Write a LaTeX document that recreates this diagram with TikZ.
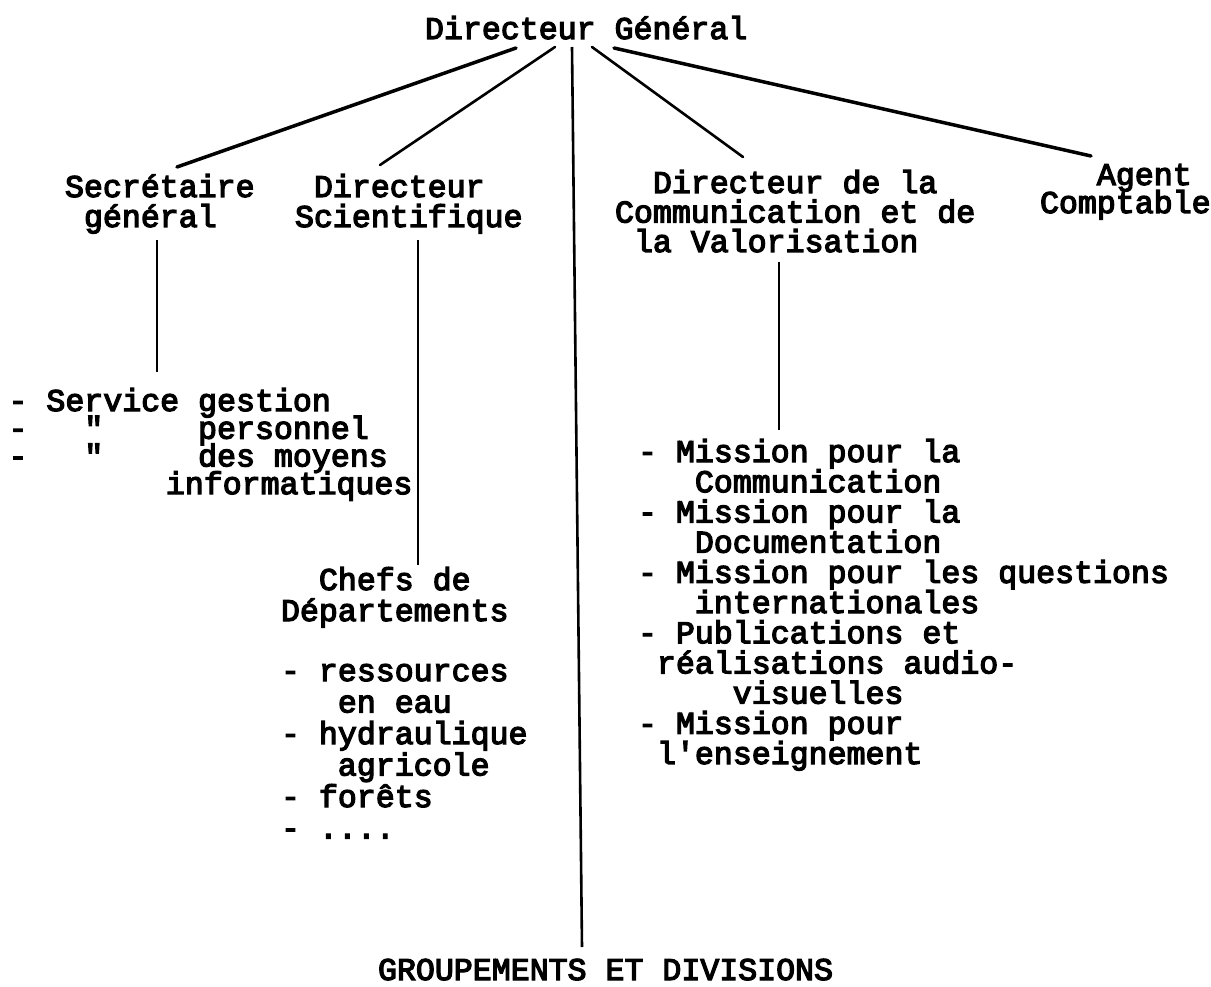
\documentclass[tikz,border=0pt]{standalone}
\usepackage{fontspec}
\newfontfamily\tw{Liberation Mono}[FakeBold=4]
\newlength\cw
\setlength\cw{18.96pt}
\newcommand\cols[1]{\hspace*{#1\cw}}
\newcommand\fl{\rule{0pt}{28pt}}
\tikzset{
  txt/.style={inner sep=0pt, outer sep=0pt, anchor=north west, align=left,
    font={\tw\fontsize{31.6}{#1}\selectfont\lineskiplimit=-100pt}},
  txt/.default=30,
  heavy/.style={line width=3.5pt, line cap=round},
  light/.style={line width=2.6pt, line cap=round},
  stem/.style={line width=2.6pt}
}
\begin{document}
\begin{tikzpicture}[x=1pt,y=-1pt]
\useasboundingbox (0,0) rectangle (1211,987);
\fill[white] (0,0) rectangle (1211,987);

% nodes
\node[txt] (dg) at (425,11) {\fl Directeur Général};
\node[txt=30] (sg) at (65,169) {\fl Secrétaire\\\cols{1}général};
\node[txt=30] (ds) at (295,169) {\fl\cols{1}Directeur\\Scientifique};
\node[txt=29.5] (dc) at (615,165) {\fl\cols{2}Directeur de la\\Communication et de\\\cols{1}la Valorisation};
\node[txt=28] (ac) at (1040,157) {\fl\cols{3}Agent\\Comptable};

\node[txt=27.7] (sv) at (8.5,383) {\fl-\cols{1}Service gestion\\-\cols{3}"\cols{5}personnel\\-\cols{3}"\cols{5}des moyens\\\cols{8.3}informatiques};

\node[txt=31] (ch) at (281,562) {\fl\cols{2}Chefs de\\Départements};
\node[txt=31.5] (dp) at (281,653) {\fl-\cols{1}ressources\\\cols{3}en eau\\-\cols{1}hydraulique\\\cols{3}agricole\\-\cols{1}forêts\\-\cols{1}....};

\node[txt=30.2] (ms) at (638,434) {\fl-\cols{1}Mission pour la\\\cols{3}Communication\\-\cols{1}Mission pour la\\\cols{3}Documentation\\-\cols{1}Mission pour les questions\\\cols{3}internationales\\-\cols{1}Publications et\\\cols{1}réalisations audio-\\\cols{5}visuelles\\-\cols{1}Mission pour\\\cols{1}l'enseignement};

\node[txt] (gd) at (378,952) {\fl GROUPEMENTS ET DIVISIONS};

% connector ends
\coordinate (t1) at (516,48);
\coordinate (t2) at (555,47);
\coordinate (t3) at (572,47);
\coordinate (t4) at (592,47);
\coordinate (t5) at (614,48);
\coordinate (e1) at (177,167);
\coordinate (e2) at (380,165);
\coordinate (e3) at (582,947);
\coordinate (e4) at (743,157);
\coordinate (e5) at (1091,156);
\coordinate (sgA) at (157,240);
\coordinate (sgB) at (157,372);
\coordinate (dsA) at (418,240);
\coordinate (dsB) at (418,565);
\coordinate (dcA) at (779,262);
\coordinate (dcB) at (779,430);

% connectors
\draw[heavy] (t1) -- (e1);
\draw[light] (t2) -- (e2);
\draw[stem] (t3) -- (e3);
\draw[light] (t4) -- (e4);
\draw[heavy] (t5) -- (e5);
\draw[stem] (sgA) -- (sgB);
\draw[stem] (dsA) -- (dsB);
\draw[stem] (dcA) -- (dcB);
\end{tikzpicture}
\end{document}
